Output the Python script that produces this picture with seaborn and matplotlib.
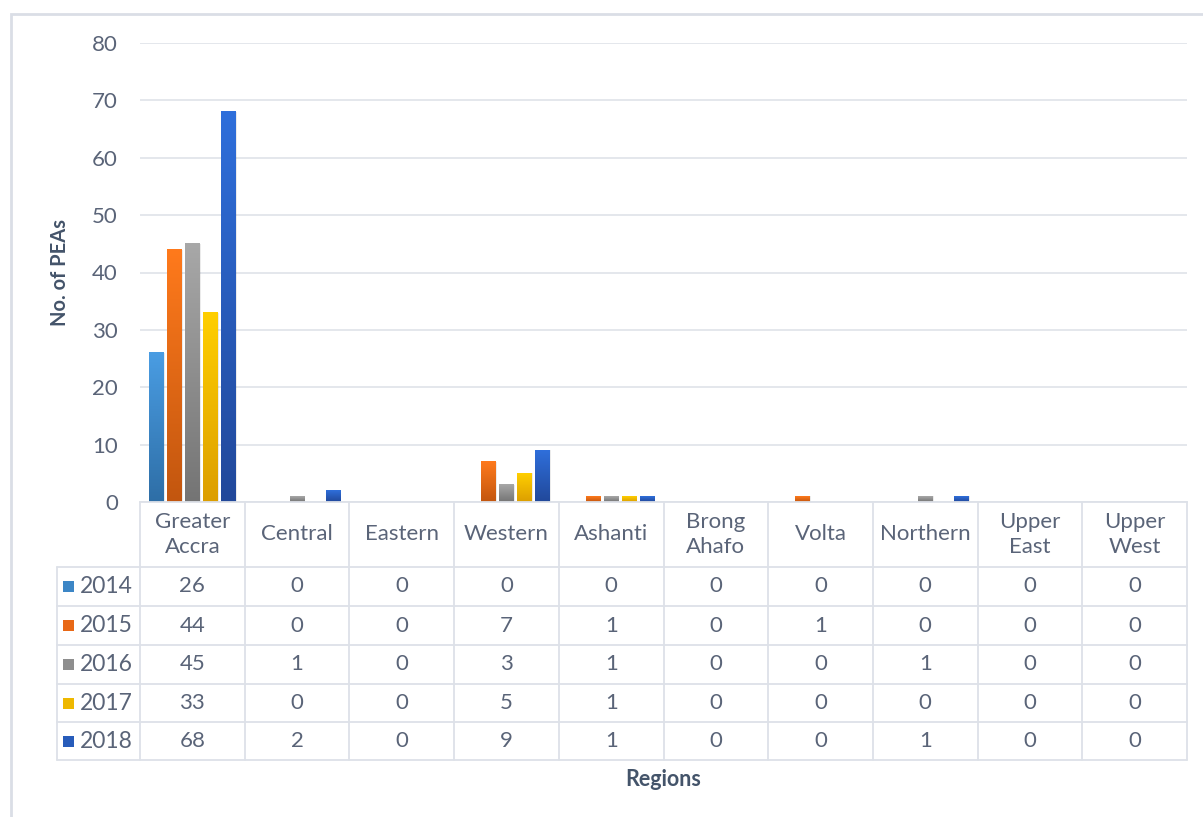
import numpy as np
import pandas as pd
import matplotlib
matplotlib.use("Agg")
import matplotlib.pyplot as plt
from matplotlib.colors import LinearSegmentedColormap
from matplotlib.patches import Rectangle
import seaborn as sns

# ---- data ----
regions = ["Greater\nAccra", "Central", "Eastern", "Western", "Ashanti",
           "Brong\nAhafo", "Volta", "Northern", "Upper\nEast", "Upper\nWest"]
years = ["2014", "2015", "2016", "2017", "2018"]
peas_2014 = [26, 0, 0, 0, 0, 0, 0, 0, 0, 0]
peas_2015 = [44, 0, 0, 7, 1, 0, 1, 0, 0, 0]
peas_2016 = [45, 1, 0, 3, 1, 0, 0, 1, 0, 0]
peas_2017 = [33, 0, 0, 5, 1, 0, 0, 0, 0, 0]
peas_2018 = [68, 2, 0, 9, 1, 0, 0, 1, 0, 0]
y_ticks = [0, 10, 20, 30, 40, 50, 60, 70, 80]

series = {"2014": peas_2014, "2015": peas_2015, "2016": peas_2016,
          "2017": peas_2017, "2018": peas_2018}

# gradient colours per year (top -> bottom)
top_colors = ["#4A9DE3", "#FF7A1C", "#A8A8A8", "#FFCF00", "#2F6FDB"]
bottom_colors = ["#2E6EA6", "#C2560F", "#747474", "#DC9E00", "#21489A"]
mid_colors = ["#3C86C6", "#E86816", "#8E8E8E", "#EEB800", "#285CBA"]

text_color = "#5A6478"
title_color = "#44546A"
line_color = "#DDE1E8"

df = pd.DataFrame([{"Region": r, "Year": y, "PEAs": v}
                   for y in years for r, v in zip(regions, series[y])])

sns.set_theme(style="white")
plt.rcParams["font.family"] = ["Lato", "DejaVu Sans"]

W, H = 1203, 817
fig = plt.figure(figsize=(W / 100, H / 100), dpi=100)


def fx(px):
    return px / W


def fy(py):
    return 1 - py / H


# ---- bar chart ----
ax = fig.add_axes([fx(140), fy(502), fx(1187) - fx(140), fy(43) - fy(502)])
sns.barplot(data=df, x="Region", y="PEAs", hue="Year", order=regions,
            hue_order=years, palette=mid_colors, width=0.86, gap=0.18,
            saturation=1, edgecolor="none", legend=False, ax=ax)

grad = np.linspace(0, 1, 256).reshape(-1, 1)
for container, c_top, c_bot in zip(ax.containers, top_colors, bottom_colors):
    cmap = LinearSegmentedColormap.from_list("g", [c_bot, c_top])
    for bar in container:
        h = bar.get_height()
        x = bar.get_x()
        w = bar.get_width()
        if h > 0:
            # soft shadow to the right of each bar
            ax.add_patch(Rectangle((x + w * 0.06, 0), w, h * 1.0,
                                   facecolor="#000000", alpha=0.08,
                                   edgecolor="none",
                                   zorder=bar.get_zorder() + 0.05))
            ax.imshow(grad, extent=[x, x + w, 0, h], cmap=cmap, aspect="auto",
                      origin="lower", zorder=bar.get_zorder() + 0.1,
                      interpolation="bilinear")
        bar.set_facecolor("none")

ax.set_xlim(-0.5, len(regions) - 0.5)
ax.set_ylim(0, 80)
ax.set_yticks(y_ticks)
ax.set_xticks([])
ax.set_xlabel("")
ax.set_ylabel("")
ax.tick_params(axis="y", length=0, pad=16, labelsize=16, labelcolor=text_color)
ax.yaxis.grid(True, color="#E2E5EA", lw=1.3)
ax.set_axisbelow(True)
for side in ["top", "right", "left"]:
    ax.spines[side].set_visible(False)
ax.spines["bottom"].set_color(line_color)
ax.spines["bottom"].set_linewidth(1.3)

fig.text(fx(60), fy(272), "No. of PEAs", rotation=90, ha="center", va="center",
         fontweight="bold", fontsize=14.5, color=title_color)

# ---- data table ----
col_w = 1047 / len(regions)
tax = fig.add_axes([fx(57), fy(760), fx(1187) - fx(57), fy(502) - fy(760)])
x0 = -0.5 - (140 - 57) / col_w
tax.set_xlim(x0, len(regions) - 0.5)
tax.set_ylim(760, 502)
tax.axis("off")


def tx(px):
    return x0 + (px - 57) / col_w


row_edges = [502, 567, 606, 645, 684, 722, 760]
for i in range(len(regions) + 1):
    xv = -0.5 + i
    tax.plot([xv, xv], [502, 760], color=line_color, lw=1.3, clip_on=False)
tax.plot([x0, x0], [567, 760], color=line_color, lw=1.3, clip_on=False)
for yv in row_edges[1:]:
    tax.plot([x0, len(regions) - 0.5], [yv, yv], color=line_color, lw=1.3,
             clip_on=False)

for i, r in enumerate(regions):
    tax.text(i, (row_edges[0] + row_edges[1]) / 2, r, ha="center", va="center",
             fontsize=16, color=text_color, linespacing=1.3)

for j, (y, c) in enumerate(zip(years, mid_colors)):
    yc = (row_edges[j + 1] + row_edges[j + 2]) / 2
    tax.add_patch(Rectangle((tx(63), yc - 5.5), 11 / col_w, 11,
                            facecolor=c, edgecolor="none", clip_on=False))
    tax.text(tx(80), yc, y, ha="left", va="center", fontsize=16.5,
             color=text_color)
    for i, v in enumerate(series[y]):
        tax.text(i, yc, str(v), ha="center", va="center", fontsize=16,
                 color=text_color)

fig.text(fx(663), fy(780), "Regions", ha="center", va="center",
         fontweight="bold", fontsize=15.5, color=title_color)

# chart frame
fig.add_artist(Rectangle((fx(11), fy(830)), (1215 - 11) / W, (830 - 14) / H,
                         transform=fig.transFigure, fill=False,
                         edgecolor="#DADEE6", lw=2))

fig.savefig("out.png", dpi=100)
